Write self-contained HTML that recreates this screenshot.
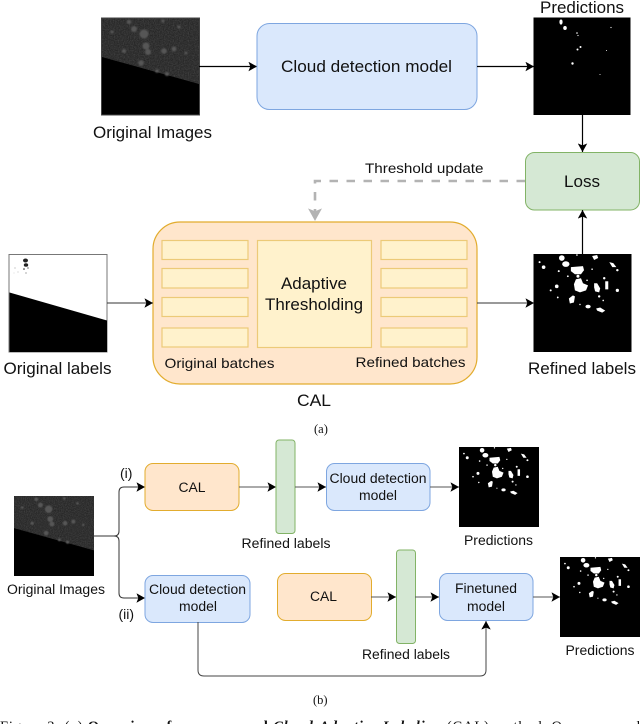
<!DOCTYPE html>
<html><head><meta charset="utf-8">
<style>
html,body{margin:0;padding:0;background:#fff;width:640px;height:724px;overflow:hidden}
svg{display:block;filter:blur(.3px)}
text{font-family:"Liberation Sans",sans-serif;fill:#111}
.s{font-family:"Liberation Serif",serif}
</style></head>
<body>
<svg width="640" height="724" viewBox="0 0 640 724" xmlns="http://www.w3.org/2000/svg">
<defs>
<marker id="a" markerUnits="userSpaceOnUse" markerWidth="9.500" markerHeight="9.500" refX="9" refY="5" orient="auto" viewBox="0 0 10 10"><path d="M0 0L9 5L0 10L2 5Z" fill="#000"/></marker>
<marker id="g" markerUnits="userSpaceOnUse" markerWidth="14" markerHeight="14" refX="9" refY="5" orient="auto" viewBox="0 0 10 10"><path d="M0 0L9 5L0 10L2 5Z" fill="#b3b3b3"/></marker>
<filter id="b" x="-20%" y="-20%" width="140%" height="140%"><feGaussianBlur stdDeviation=".7"/></filter>
<filter id="n" x="0" y="0" width="100%" height="100%"><feTurbulence type="fractalNoise" baseFrequency=".8" numOctaves="2" seed="4"/><feColorMatrix values="0 0 0 0 .35 0 0 0 0 .35 0 0 0 0 .35 0 0 0 .4 -.12"/><feComposite in2="SourceAlpha" operator="in"/></filter>
<symbol id="ref" viewBox="0 0 97 97" overflow="hidden">
<rect width="97" height="97" fill="#000"/>
<g fill="#fff">
<ellipse cx="28" cy="4" rx="2.800" ry="2.800"/><ellipse cx="32" cy="10" rx="3.600" ry="2.800"/>
<path d="M37 13L49 12L50 16L47 20L41 20L37 17Z"/><path d="M42 25L47 24L49 29L54 31L52 36L46 38L41 36L40 30Z"/>
<path d="M35 44L39 41L41 42L40 48L36 49Z"/><ellipse cx="54" cy="52" rx="2.600" ry="1.800"/><path d="M62 54L66 53L71 56L68 58L63 56Z"/>
<path d="M60 29L63 29L66 34L65 38L61 37L60 33Z"/><path d="M71 27L74 27L74 35L71 35Z"/><circle cx="70" cy="24" r="1.200"/>
<path d="M75 8L79 9L82 13L78 13Z"/><path d="M58 2L63 1L64 4L60 6Z"/><circle cx="83" cy="36" r="1.600"/>
<circle cx="23" cy="32" r="1.800"/><circle cx="17" cy="36" r="1"/><circle cx="10" cy="13" r="1.800"/><circle cx="6" cy="8" r="1"/><circle cx="25" cy="17" r="1"/><circle cx="83" cy="16" r="1.200"/><circle cx="24" cy="43" r=".9"/><circle cx="65" cy="42" r="1.200"/><circle cx="58" cy="15" r=".8"/><circle cx="34" cy="22" r=".9"/><circle cx="43" cy="1" r=".8"/><circle cx="44" cy="22" r="1.500"/><circle cx="53" cy="26" r=".8"/><circle cx="69" cy="46" r=".8"/><circle cx="46" cy="50" r=".7"/>
</g>
</symbol>
<symbol id="orig" viewBox="0 0 97 97" overflow="hidden">
<rect width="97" height="97" fill="#000"/>
<polygon points="0,0 97,0 97,66 0,39" fill="#272727"/>
<polygon points="0,0 97,0 97,66 0,39" filter="url(#n)"/>
<g fill="#565656" filter="url(#b)">
<circle cx="42" cy="16" r="4.500"/><circle cx="32" cy="11" r="3"/><circle cx="27" cy="4" r="2.200"/><circle cx="44" cy="28" r="3.500"/><circle cx="46" cy="34" r="3"/><circle cx="62" cy="33" r="2.800"/><circle cx="72" cy="31" r="2.400"/><circle cx="39" cy="45" r="2.800"/><circle cx="22" cy="33" r="2"/><circle cx="10" cy="14" r="1.600"/><circle cx="55" cy="53" r="1.800"/><circle cx="65" cy="56" r="2"/><circle cx="84" cy="35" r="1.500"/><circle cx="77" cy="9" r="1.600"/><circle cx="61" cy="3" r="1.600"/>
</g>
</symbol>
</defs>

<!-- Part (a) -->
<use href="#orig" x="101.500" y="18" width="98" height="97"/>
<rect x="101.500" y="18" width="98" height="97" fill="none" stroke="#444" stroke-width="1"/>
<text x="93" y="138" font-size="16.500" textLength="119" lengthAdjust="spacingAndGlyphs">Original Images</text>

<path d="M199 66.500H257" stroke="#000" stroke-width="1.200" fill="none" marker-end="url(#a)"/>
<rect x="257" y="23.500" width="220" height="86" rx="12.500" fill="#dae8fc" stroke="#7ea6e0" stroke-width="1"/>
<text x="281" y="72" font-size="16.500" textLength="171" lengthAdjust="spacingAndGlyphs">Cloud detection model</text>

<path d="M477 66.500H534" stroke="#000" stroke-width="1.200" fill="none" marker-end="url(#a)"/>
<text x="540" y="13" font-size="16.500" textLength="84" lengthAdjust="spacingAndGlyphs">Predictions</text>
<rect x="533.500" y="17.500" width="97" height="97.500" fill="#000"/>
<g fill="#fff">
<ellipse cx="561" cy="22" rx="1.600" ry="2.600"/><ellipse cx="565" cy="28" rx="1.800" ry="2"/><circle cx="577" cy="33" r=".8"/><circle cx="578" cy="35.500" r=".6"/><circle cx="577.500" cy="49.500" r="1"/><circle cx="580.500" cy="47" r="1"/><circle cx="572.500" cy="63.500" r="1.200"/><circle cx="611" cy="27.500" r=".6"/><circle cx="606.500" cy="50.500" r=".5"/><circle cx="600" cy="74.500" r=".5"/>
</g>

<path d="M582.500 115V152" stroke="#000" stroke-width="1.200" fill="none" marker-end="url(#a)"/>
<rect x="525.500" y="152.500" width="114" height="57.500" rx="9" fill="#d5e8d4" stroke="#82b366" stroke-width="1"/>
<text x="564" y="187" font-size="16.500" textLength="36" lengthAdjust="spacingAndGlyphs">Loss</text>
<path d="M582.500 254V210" stroke="#000" stroke-width="1.200" fill="none" marker-end="url(#a)"/>

<text x="365" y="173" font-size="14" textLength="118.500" lengthAdjust="spacingAndGlyphs">Threshold update</text>
<path d="M525 181H315V221" stroke="#b3b3b3" stroke-width="2.600" stroke-dasharray="8.500 8.500" fill="none" marker-end="url(#g)"/>

<rect x="153" y="222" width="324" height="162" rx="27" fill="#ffe6cc" stroke="#e2ac2e" stroke-width="1.200"/>
<g fill="#fff2cc" stroke="#ecca78" stroke-width="1.200">
<rect x="162" y="240.500" width="86" height="19"/><rect x="162" y="268.500" width="86" height="19.500"/><rect x="162" y="297.500" width="86" height="19"/><rect x="162" y="328" width="86" height="19"/>
<rect x="257.500" y="240.500" width="114" height="107"/>
<rect x="381" y="240.500" width="86" height="19"/><rect x="381" y="268.500" width="86" height="19.500"/><rect x="381" y="297.500" width="86" height="19"/><rect x="381" y="328" width="86" height="19"/>
</g>
<text x="281" y="289" font-size="16.500" textLength="66" lengthAdjust="spacingAndGlyphs">Adaptive</text>
<text x="265" y="310" font-size="16.500" textLength="98" lengthAdjust="spacingAndGlyphs">Thresholding</text>
<text x="164.500" y="368" font-size="14" textLength="110" lengthAdjust="spacingAndGlyphs">Original batches</text>
<text x="355.500" y="367" font-size="14" textLength="110" lengthAdjust="spacingAndGlyphs">Refined batches</text>
<text x="297" y="406" font-size="16.500" textLength="34" lengthAdjust="spacingAndGlyphs">CAL</text>
<text class="s" x="314" y="433" font-size="12.500">(a)</text>

<rect x="9" y="254.500" width="98" height="97.500" fill="#fff" stroke="#777" stroke-width="1"/>
<polygon points="9.500,292.500 107,320.500 107,352 9.500,352" fill="#000"/>
<g fill="#222">
<ellipse cx="25.500" cy="260.500" rx="2.500" ry="2"/><ellipse cx="26" cy="265" rx="2.200" ry="1.800"/><circle cx="24" cy="269" r=".8"/><circle cx="28" cy="268" r=".6"/><circle cx="26" cy="273" r=".5"/>
</g>
<g fill="#aaa"><circle cx="15" cy="268" r=".6"/><circle cx="18" cy="272" r=".5"/><circle cx="14" cy="273" r=".4"/></g>
<text x="3.500" y="374" font-size="16.500" textLength="108" lengthAdjust="spacingAndGlyphs">Original labels</text>
<path d="M107 303H153" stroke="#333" stroke-width="1" fill="none" marker-end="url(#a)"/>
<path d="M477 303H534" stroke="#333" stroke-width="1" fill="none" marker-end="url(#a)"/>
<use href="#ref" x="533.500" y="254" width="98" height="98"/>
<text x="528" y="374" font-size="16.500" textLength="108" lengthAdjust="spacingAndGlyphs">Refined labels</text>

<!-- Part (b) -->
<use href="#orig" x="14" y="496" width="80" height="80"/>
<text x="7" y="594" font-size="13.500" textLength="98" lengthAdjust="spacingAndGlyphs">Original Images</text>
<path d="M94 536H114Q119 536 119 531V492Q119 487 124 487H145" stroke="#333" stroke-width="1" fill="none" marker-end="url(#a)"/>
<path d="M114 536Q119 536 119 541V593Q119 598 124 598H145" stroke="#333" stroke-width="1" fill="none" marker-end="url(#a)"/>
<text x="120" y="478" font-size="14">(i)</text>
<text x="118.500" y="619" font-size="14">(ii)</text>

<rect x="145" y="463.500" width="94" height="47" rx="8" fill="#ffe6cc" stroke="#e2ac2e" stroke-width="1"/>
<text x="178.500" y="492" font-size="13.500" textLength="27" lengthAdjust="spacingAndGlyphs">CAL</text>
<path d="M239 487H276" stroke="#555" stroke-width="1" fill="none" marker-end="url(#a)"/>
<rect x="276" y="440" width="19" height="93.500" rx="3" fill="#d5e8d4" stroke="#82b366" stroke-width="1"/>
<text x="241.500" y="548" font-size="13.500" textLength="89" lengthAdjust="spacingAndGlyphs">Refined labels</text>
<path d="M295 487H326" stroke="#555" stroke-width="1" fill="none" marker-end="url(#a)"/>
<rect x="326.500" y="463.500" width="103.500" height="47" rx="8" fill="#dae8fc" stroke="#7ea6e0" stroke-width="1"/>
<text x="329.500" y="483" font-size="13.500" textLength="97" lengthAdjust="spacingAndGlyphs">Cloud detection</text>
<text x="359" y="500" font-size="13.500" textLength="38" lengthAdjust="spacingAndGlyphs">model</text>
<path d="M430 487H459" stroke="#555" stroke-width="1" fill="none" marker-end="url(#a)"/>
<use href="#ref" x="459" y="447" width="80" height="80"/>
<text x="464" y="545" font-size="13.500" textLength="69" lengthAdjust="spacingAndGlyphs">Predictions</text>

<rect x="145" y="575.500" width="105" height="47" rx="8" fill="#dae8fc" stroke="#7ea6e0" stroke-width="1"/>
<text x="149" y="594" font-size="13.500" textLength="97" lengthAdjust="spacingAndGlyphs">Cloud detection</text>
<text x="179" y="611" font-size="13.500" textLength="38" lengthAdjust="spacingAndGlyphs">model</text>
<path d="M198 622V670Q198 676 204 676H480Q486 676 486 670V621" stroke="#444" stroke-width="1" fill="none" marker-end="url(#a)"/>

<rect x="277.500" y="573.500" width="94" height="47" rx="8" fill="#ffe6cc" stroke="#e2ac2e" stroke-width="1"/>
<text x="310" y="601" font-size="13.500" textLength="27" lengthAdjust="spacingAndGlyphs">CAL</text>
<path d="M371 597H396" stroke="#555" stroke-width="1" fill="none" marker-end="url(#a)"/>
<rect x="396.500" y="550" width="19" height="93.500" rx="3" fill="#d5e8d4" stroke="#82b366" stroke-width="1"/>
<text x="362" y="659" font-size="13.500" textLength="88" lengthAdjust="spacingAndGlyphs">Refined labels</text>
<path d="M415 597H439" stroke="#555" stroke-width="1" fill="none" marker-end="url(#a)"/>
<rect x="439.500" y="573.500" width="93.500" height="47" rx="8" fill="#dae8fc" stroke="#7ea6e0" stroke-width="1"/>
<text x="455" y="593" font-size="13.500" textLength="62" lengthAdjust="spacingAndGlyphs">Finetuned</text>
<text x="467" y="611" font-size="13.500" textLength="38" lengthAdjust="spacingAndGlyphs">model</text>
<path d="M533 597H560" stroke="#555" stroke-width="1" fill="none" marker-end="url(#a)"/>
<use href="#ref" x="560" y="557" width="80" height="80"/>
<text x="565.500" y="655" font-size="13.500" textLength="69" lengthAdjust="spacingAndGlyphs">Predictions</text>

<text class="s" x="313" y="704" font-size="12.500">(b)</text>
<text class="s" x="0" y="731" font-size="14.500" textLength="640" lengthAdjust="spacing">Figure 3: (a) <tspan font-weight="bold">Overview of our proposed</tspan> <tspan font-style="italic" font-weight="bold">Cloud-Adaptive Labeling</tspan> (CAL) method. Our proposed</text>
</svg>
</body></html>
